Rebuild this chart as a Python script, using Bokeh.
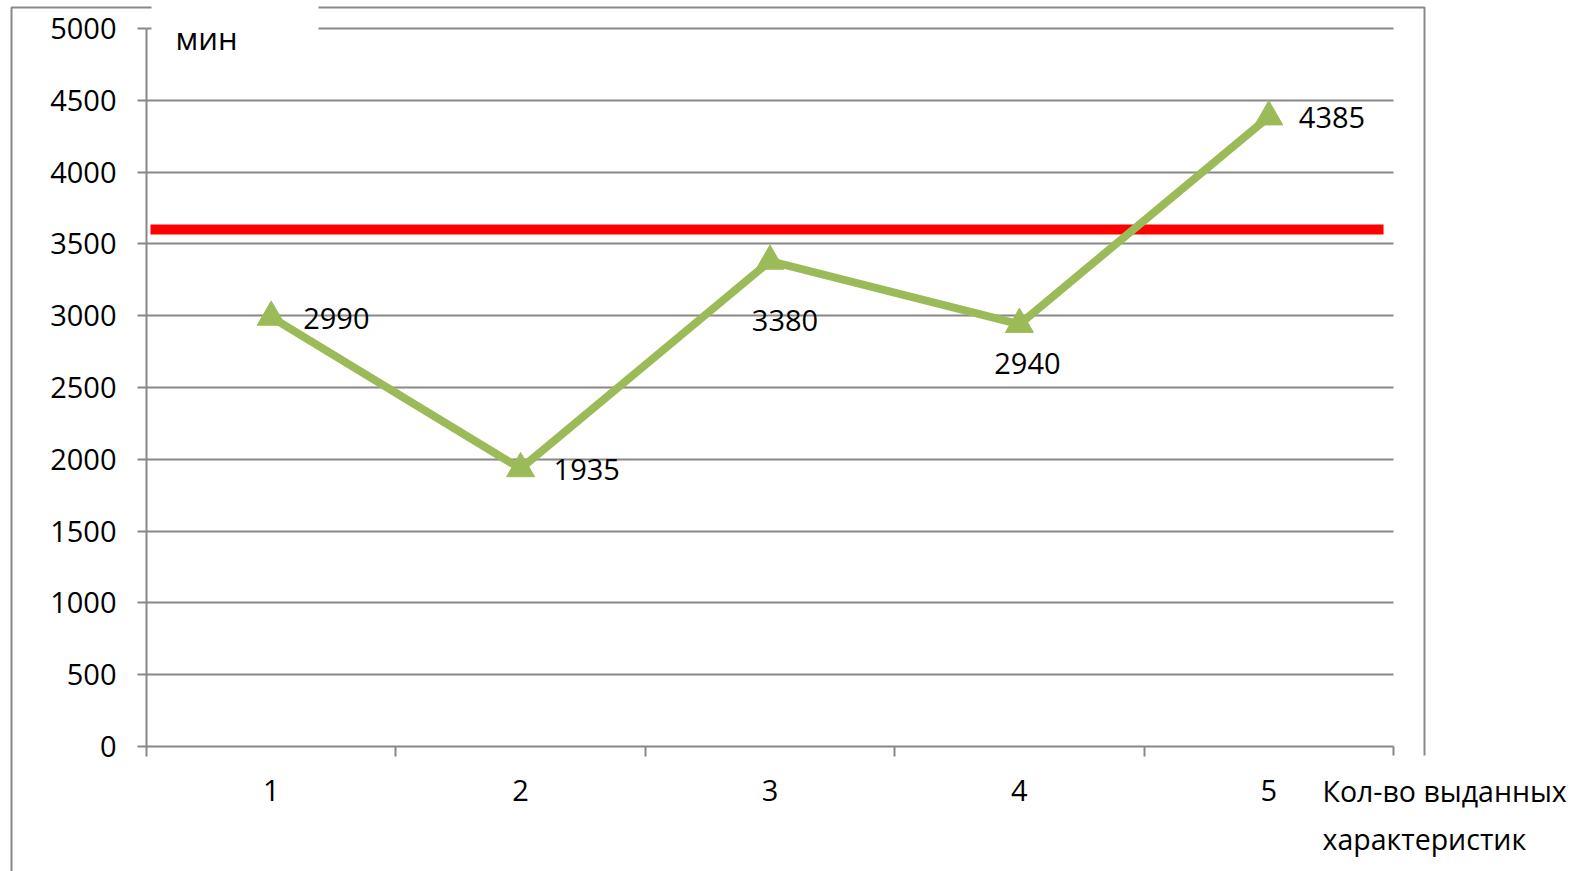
from bokeh.plotting import figure
from bokeh.models import FixedTicker, Label, PolyAnnotation, ColumnDataSource
from bokeh.core.properties import value
from bokeh.embed import file_html
from bokeh.resources import INLINE

# ---- data -------------------------------------------------------------
categories = ["1", "2", "3", "4", "5"]
minutes = [2990, 1935, 3380, 2940, 4385]
norm_minutes = 3600
y_ticks = [0, 500, 1000, 1500, 2000, 2500, 3000, 3500, 4000, 4500, 5000]
y_unit = "мин"
x_title = ["Кол-во выданных", "характеристик"]

# ---- page geometry (canvas pixels) -------------------------------------
# The frame fills the whole canvas; the plot area sits inside it and the
# axes are pinned to its edges with fixed_location.
W, H = 1583, 871
AREA_L, AREA_R, AREA_T, AREA_B = 146, 1393, 28, 746
X0, X1 = 0.5, len(categories) + 0.5
Y0, Y1 = y_ticks[0], y_ticks[-1]

FONT = "Open Sans"
FONT_SIZE = "29px"
GRID = "#888888"
GREEN = "#9BBB59"
RED = "#FF0000"


def cx(px):
    return X0 + (px - AREA_L) / (AREA_R - AREA_L) * (X1 - X0)


def cy(py):
    return Y0 + (AREA_B - py) / (AREA_B - AREA_T) * (Y1 - Y0)


p = figure(
    width=W, height=H,
    x_range=(cx(0), cx(W)), y_range=(cy(H), cy(0)),
    min_border=0, min_border_left=0, min_border_right=0,
    min_border_top=0, min_border_bottom=0,
    output_backend="svg", toolbar_location=None,
    outline_line_color=None, background_fill_color="white",
    border_fill_color="white",
)

# ---- axes ---------------------------------------------------------------
xs = list(range(1, len(categories) + 1))
p.xaxis.fixed_location = Y0
p.xaxis.bounds = (X0, X1)
p.xaxis.ticker = FixedTicker(ticks=xs, minor_ticks=[x - 0.5 for x in xs] + [xs[-1] + 0.5])
p.xaxis.major_label_overrides = {x: c for x, c in zip(xs, categories)}
p.xaxis.major_tick_out = 0
p.xaxis.major_tick_in = 0
p.xaxis.minor_tick_out = 10
p.xaxis.minor_tick_in = 0
p.xaxis.minor_tick_line_color = GRID
p.xaxis.minor_tick_line_width = 2
p.xaxis.major_label_standoff = 23

p.yaxis.fixed_location = X0
p.yaxis.bounds = (Y0, Y1)
p.yaxis.ticker = FixedTicker(ticks=y_ticks, minor_ticks=[])
p.yaxis.major_tick_out = 9
p.yaxis.major_tick_in = 0
p.yaxis.major_tick_line_color = GRID
p.yaxis.major_tick_line_width = 2
p.yaxis.major_label_standoff = 21

for ax in (p.xaxis, p.yaxis):
    ax.axis_line_color = GRID
    ax.axis_line_width = 2
    ax.major_label_text_font = FONT
    ax.major_label_text_font_size = FONT_SIZE
    ax.major_label_text_color = "black"

p.xgrid.grid_line_color = None
p.ygrid.ticker = FixedTicker(ticks=y_ticks[1:])
p.ygrid.bounds = (Y0, Y1)
p.ygrid.cross_bounds = (X0, X1)
p.ygrid.grid_line_color = GRID
p.ygrid.grid_line_width = 2

# ---- norm line ------------------------------------------------------------
p.segment(x0=[cx(150)], y0=[norm_minutes], x1=[cx(1383)], y1=[norm_minutes],
          line_color=RED, line_width=10, line_cap="butt")

# ---- series -----------------------------------------------------------------
src = ColumnDataSource(dict(
    x=xs, y=minutes, label=[str(v) for v in minutes],
    dx=[32, 33, 15, 8, 30], dy=[1, 1, 59, 39, 1],
    align=["left", "left", "center", "center", "left"],
))
p.line("x", "y", source=src, line_color=GREEN, line_width=8, line_join="round")
p.scatter("x", "y", source=src, marker="triangle", size=28,
          fill_color=GREEN, line_color=GREEN)
p.text("x", "y", text="label", source=src, x_offset="dx", y_offset="dy",
       text_align="align", text_baseline="middle",
       text_font=value(FONT), text_font_size=FONT_SIZE, text_color="black")

# ---- chart area border and text boxes -------------------------------------------
p.add_layout(PolyAnnotation(
    xs=[cx(11), cx(11), cx(1424), cx(1424)],
    ys=[cy(900), cy(7), cy(7), cy(900)],
    fill_alpha=0, line_color=GRID, line_alpha=1, line_width=2,
))
for (l, t, r, b) in [(151, -5, 318, 75), (1300, 755, 1600, 900)]:
    p.add_layout(PolyAnnotation(
        xs=[cx(l), cx(l), cx(r), cx(r)], ys=[cy(b), cy(t), cy(t), cy(b)],
        fill_color="white", fill_alpha=1, line_alpha=0,
    ))

p.add_layout(Label(x=cx(175), y=cy(37), text=y_unit, text_font=FONT,
                   text_font_size="31px", text_color="black",
                   text_align="left", text_baseline="middle"))
for text, mid in zip(x_title, [790, 838]):
    p.add_layout(Label(x=cx(1322), y=cy(mid), text=text, text_font=FONT,
                       text_font_size="28.5px", text_color="black",
                       text_align="left", text_baseline="middle"))

open("out.html", "w").write(file_html(p, INLINE))
